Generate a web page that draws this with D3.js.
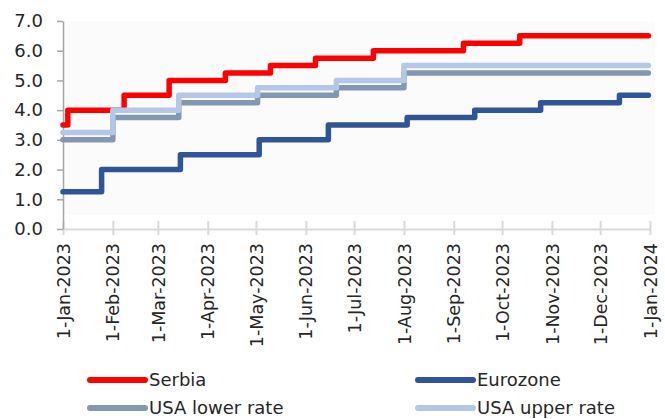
<!DOCTYPE html>
<html>
<head>
<meta charset="utf-8">
<script src="https://cdn.jsdelivr.net/npm/d3@7"></script>
<style>
  body { margin: 0; background: #fff; }
  text { font-family: "DejaVu Sans", sans-serif; fill: #262626; }
</style>
</head>
<body>
<svg id="chart"></svg>
<script>
// policy rates, step changes (date the new rate starts)
var serbiaDates = ["2023-01-01", "2023-01-04", "2023-02-08", "2023-03-08", "2023-04-12", "2023-05-10", "2023-06-07", "2023-07-13", "2023-09-07", "2023-10-12", "2023-12-31"];
var serbiaRates = [3.5, 4.0, 4.5, 5.0, 5.25, 5.5, 5.75, 6.0, 6.25, 6.5, 6.5];

var euroDates = ["2023-01-01", "2023-01-25", "2023-03-15", "2023-05-03", "2023-06-15", "2023-08-03", "2023-09-14", "2023-10-25", "2023-12-13", "2023-12-31"];
var euroRates = [1.25, 2.0, 2.5, 3.0, 3.5, 3.75, 4.0, 4.25, 4.5, 4.5];

var usaDates = ["2023-01-01", "2023-02-01", "2023-03-14", "2023-05-02", "2023-06-20", "2023-08-01", "2023-12-31"];
var usaLower = [3.0, 3.75, 4.25, 4.5, 4.75, 5.25, 5.25];
var usaUpper = [3.25, 4.0, 4.5, 4.75, 5.0, 5.5, 5.5];

var yTicks = [0, 1, 2, 3, 4, 5, 6, 7];

var width = 665, height = 419;
var margin = {top: 21, left: 63, right: 15, bottom: 190};

var parse = d3.timeParse("%Y-%m-%d");

var x = d3.scaleTime()
  .domain([parse("2023-01-01"), parse("2024-01-01")])
  .range([margin.left, 650]);
var y = d3.scaleLinear().domain([0, 7]).range([229, 21]);

var svg = d3.select("#chart")
  .attr("width", width)
  .attr("height", height);

// faint plot background
svg.append("rect")
  .attr("x", margin.left)
  .attr("y", 21)
  .attr("width", 655 - margin.left)
  .attr("height", 194)
  .attr("fill", "#fbfbfb");

function zip(dates, vals) {
  return dates.map(function(d, i) { return {date: parse(d), v: vals[i]}; });
}

var series = [
  {name: "Serbia", color: "#ff0000", data: zip(serbiaDates, serbiaRates)},
  {name: "Eurozone", color: "#2f5597", data: zip(euroDates, euroRates)},
  {name: "USA lower rate", color: "#8497b0", data: zip(usaDates, usaLower)},
  {name: "USA upper rate", color: "#b4c7e7", data: zip(usaDates, usaUpper)}
];

// x axis
var xAxis = svg.append("g")
  .attr("transform", "translate(0,229)")
  .call(d3.axisBottom(x)
    .ticks(d3.timeMonth.every(1))
    .tickSize(6)
    .tickSizeOuter(0)
    .tickFormat(d3.timeFormat("%-d-%b-%Y")));
xAxis.select(".domain").attr("stroke", "#d9d9d9").attr("stroke-width", 2);
xAxis.selectAll(".tick line")
  .attr("stroke", "#d9d9d9")
  .attr("stroke-width", 2)
  .attr("y1", -8);
xAxis.selectAll(".tick text")
  .attr("transform", "rotate(-90)")
  .attr("x", -14)
  .attr("y", 0)
  .attr("dy", "0.35em")
  .style("text-anchor", "end")
  .style("font-size", "17.5px")
  .style("font-family", "'DejaVu Sans', sans-serif")
  .attr("fill", "#262626");

// y axis
var yAxis = svg.append("g")
  .attr("transform", "translate(" + margin.left + ",0)")
  .call(d3.axisLeft(y)
    .tickValues(yTicks)
    .tickSize(6)
    .tickSizeOuter(0)
    .tickPadding(14)
    .tickFormat(d3.format(".1f")));
yAxis.select(".domain").attr("stroke", "#a6a6a6").attr("stroke-width", 1.5);
yAxis.selectAll(".tick line").attr("stroke", "#a6a6a6").attr("stroke-width", 1.5);
yAxis.selectAll(".tick text")
  .style("font-size", "18px")
  .style("font-family", "'DejaVu Sans', sans-serif")
  .attr("fill", "#262626");

var line = d3.line()
  .curve(d3.curveStepAfter)
  .x(function(d) { return x(d.date); })
  .y(function(d) { return y(d.v); });

svg.selectAll(".series")
  .data(series)
  .enter()
  .append("path")
  .attr("class", "series")
  .attr("d", function(d) { return line(d.data); })
  .attr("fill", "none")
  .attr("stroke", function(d) { return d.color; })
  .attr("stroke-width", 5.5)
  .attr("stroke-linejoin", "round")
  .attr("stroke-linecap", "round");

// legend
var legendPos = [[90, 380], [418, 380], [90, 408], [418, 408]];
var legend = svg.selectAll(".legend")
  .data(series)
  .enter()
  .append("g")
  .attr("class", "legend")
  .attr("transform", function(d, i) { return "translate(" + legendPos[i][0] + "," + legendPos[i][1] + ")"; });

legend.append("line")
  .attr("x1", 0)
  .attr("x2", 55)
  .attr("stroke", function(d) { return d.color; })
  .attr("stroke-width", 6)
  .attr("stroke-linecap", "round");

legend.append("text")
  .attr("x", 59)
  .attr("dy", "0.35em")
  .style("font-size", "18px")
  .text(function(d) { return d.name; });
</script>
</body>
</html>
